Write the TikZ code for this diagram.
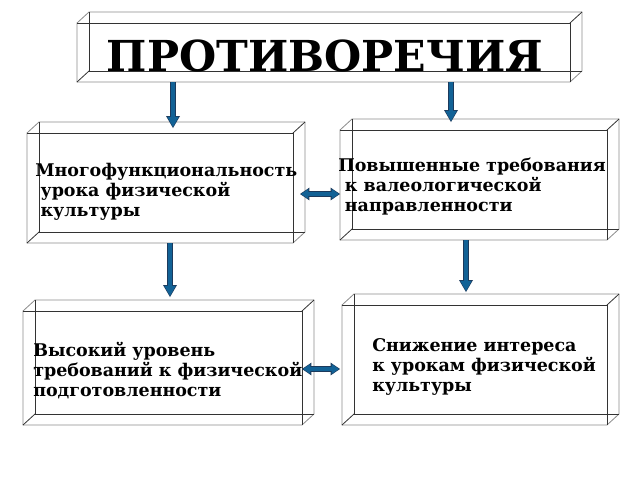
\documentclass[tikz,border=0pt]{standalone}
\usepackage{fontspec}
\setmainfont{DejaVu Serif}
\usetikzlibrary{arrows.meta,fit}

\definecolor{arrowfill}{RGB}{18,98,150}
\definecolor{arrowline}{RGB}{28,58,92}

\tikzset{
  face/.style={inner sep=0pt, outer sep=0pt},
  edgelight/.style={draw=black!45, line width=0.6pt},
  edgedark/.style={draw=black!80, line width=0.6pt},
  lbl/.style={anchor=west, align=left, inner sep=0pt,
    font=\fontsize{13.1}{15}\selectfont\bfseries},
  ttl/.style={inner sep=0pt, font=\fontsize{32}{36}\selectfont\bfseries},
  blk/.style={draw=arrowfill, line width=3.4pt, shorten >=0.8pt,
    -{Triangle[length=7.5pt,width=8.5pt,line width=0pt]},
    preaction={draw=arrowline, line width=4.5pt, shorten >=0pt,
      -{Triangle[length=9pt,width=10.5pt,line width=0pt]}}},
  dblk/.style={draw=arrowfill, line width=2.8pt, shorten >=0.8pt, shorten <=0.8pt,
    {Triangle[length=5.5pt,width=7.5pt,line width=0pt]}-{Triangle[length=5.5pt,width=7.5pt,line width=0pt]},
    preaction={draw=arrowline, line width=3.8pt, shorten >=0pt, shorten <=0pt,
      {Triangle[length=7pt,width=9.5pt,line width=0pt]}-{Triangle[length=7pt,width=9.5pt,line width=0pt]}}},
}

% transparent box: front face is the node, back face is shifted up and right
\newcommand{\cubeedges}[1]{%
  \draw[edgelight] (#1.south west) -- (#1.north west)
    -- ([shift={(12,-11)}]#1.north west) -- ([shift={(12,-11)}]#1.north east)
    -- ([shift={(12,-11)}]#1.south east) -- (#1.south east) -- cycle;
  \draw[edgedark] ([shift={(12,-11)}]#1.north west) -- ([shift={(12,-11)}]#1.south west)
    -- ([shift={(12,-11)}]#1.south east);
  \draw[edgedark] (#1.north west) -- (#1.north east) -- (#1.south east);
  \draw[edgedark] (#1.north east) -- ([shift={(12,-11)}]#1.north east);
  \draw[edgedark] (#1.south west) -- ([shift={(12,-11)}]#1.south west);
}

\begin{document}
\begin{tikzpicture}[x=0.75pt,y=-0.75pt]
  \fill[white] (0,0) rectangle (640,480);
  \useasboundingbox (0,0) rectangle (640,480);

  % boxes
  \node[face, fit={(77,23) (570,82)}] (top) {};
  \node[face, fit={(27,133) (293,243)}] (mult) {};
  \node[face, fit={(340,130) (607,240)}] (req) {};
  \node[face, fit={(23,311) (302,425)}] (high) {};
  \node[face, fit={(342,305) (607,425)}] (drop) {};
  \cubeedges{top}
  \cubeedges{mult}
  \cubeedges{req}
  \cubeedges{high}
  \cubeedges{drop}

  % texts
  \node[ttl] (toptxt) at (325,56) {ПРОТИВОРЕЧИЯ};
  \node[lbl] (multtxt) at (35,192) {Многофункциональность\\
    \hspace*{4pt}урока физической\\ \hspace*{4pt}культуры};
  \node[lbl] (reqtxt) at (338,187) {Повышенные требования\\
    \hspace*{5pt}к валеологической\\ \hspace*{5pt}направленности};
  \node[lbl] (hightxt) at (33,371) {Высокий уровень\\
    требований к физической\\ подготовленности};
  \node[lbl] (droptxt) at (372,367) {Снижение интереса\\
    к урокам физической\\ культуры};

  % arrows
  \coordinate (a1) at (173,128);
  \coordinate (a2) at (451,122);
  \coordinate (a3) at (170,297);
  \coordinate (a4) at (466,292);
  \coordinate (d1) at (300,194);
  \coordinate (d2) at (340,369);
  \draw[blk] (top.south -| a1) -- (a1);
  \draw[blk] (top.south -| a2) -- (a2);
  \draw[blk] (mult.south -| a3) -- (a3);
  \draw[blk] (req.south -| a4) -- (a4);
  \draw[dblk] (d1) -- (d1 -| req.west);
  \draw[dblk] (high.east |- d2) -- (d2);
\end{tikzpicture}
\end{document}
